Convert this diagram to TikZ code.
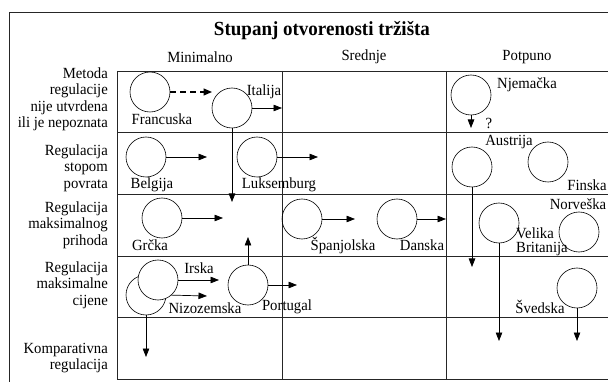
\documentclass[tikz,border=0pt]{standalone}
\usepackage{fontspec}
\setmainfont{Liberation Serif}[FakeStretch=0.95]
\usetikzlibrary{arrows.meta}
\begin{document}
\begin{tikzpicture}[x=1pt,y=-1pt,
  ctry/.style={circle,draw,line width=0.6pt,minimum size=40pt,inner sep=0pt},
  lbl/.style={font=\fontsize{15.5}{16}\selectfont,inner sep=0pt},
  rowlbl/.style={font=\fontsize{15.5}{16.5}\selectfont,inner sep=0pt,align=right,anchor=east},
  arr/.style={-{Triangle[length=8.5pt,width=6.5pt]},line width=0.7pt},
  dasharr/.style={-{Triangle[length=8.5pt,width=7pt]},line width=1.4pt,dash pattern=on 6pt off 4pt},
  gridline/.style={line width=0.8pt,draw=black!85}]
\useasboundingbox (0,0) rectangle (608,382);
\clip (0,0) rectangle (608,382);
% outer frame
\draw[gridline] (9,400) -- (9,12.5) -- (620,12.5);
% grid
\draw[gridline] (117,71) -- (620,71);
\draw[gridline] (117,132) -- (620,132);
\draw[gridline] (117,194) -- (620,194);
\draw[gridline] (117,256) -- (620,256);
\draw[gridline] (117,317) -- (620,317);
\draw[gridline] (117,379) -- (620,379);
\draw[gridline] (117,71) -- (117,379);
\draw[gridline] (282,71) -- (282,379);
\draw[gridline] (446,71) -- (446,379);
% title and headers
\node[font=\fontsize{20}{22}\selectfont\bfseries,inner sep=0pt] (title) at (322,31) {Stupanj otvorenosti tržišta};
\node[lbl] (hmin) at (200,57) {Minimalno};
\node[lbl] (hsre) at (364,57) {Srednje};
\node[lbl] (hpot) at (527,57) {Potpuno};
% row labels
\node[rowlbl] (r1) at (108,99.5) {Metoda\\regulacije\\nije utvrdena\\ili je nepoznata};
\node[rowlbl] (r2) at (108,168) {Regulacija\\stopom\\povrata};
\node[rowlbl] (r3) at (108,225) {Regulacija\\maksimalnog\\prihoda};
\node[rowlbl] (r4) at (108,285) {Regulacija\\maksimalne\\cijene};
\node[rowlbl] (r5) at (108,358) {Komparativna\\regulacija};
% row 1
\node[ctry] (fr) at (150,92) {};
\node[lbl] (frl) at (162,119) {Francuska};
\node[ctry] (it) at (232,108) {};
\node[lbl] (itl) at (264,92) {Italija};
\coordinate (frE) at (212,92);
\coordinate (itE) at (282,108);
\coordinate (itS) at (232,202);
\draw[dasharr] (fr.east) -- (frE);
\draw[arr] (it.east) -- (itE);
\draw[arr] (it.south) -- (itS);
\node[ctry] (de) at (471,95) {};
\node[lbl] (del) at (527,85) {Njemačka};
\coordinate (deS) at (471,128);
\draw[arr] (de.south) -- (deS);
\node[lbl] (q) at (489,123) {?};
% row 2
\node[ctry] (be) at (146,157) {};
\node[lbl] (bel) at (152,185) {Belgija};
\coordinate (beE) at (207,157);
\draw[arr] (be.east) -- (beE);
\node[ctry] (lu) at (257,157) {};
\node[lbl] (lul) at (279,185) {Luksemburg};
\coordinate (luE) at (318,157);
\draw[arr] (lu.east) -- (luE);
\node[ctry] (at) at (472,167) {};
\node[lbl] (atl) at (509,142) {Austrija};
\coordinate (atS) at (472,267);
\draw[arr] (at.south) -- (atS);
\node[ctry] (fi) at (548,162) {};
\node[lbl] (fil) at (587,185) {Finska};
% row 3
\node[ctry] (gr) at (162,218) {};
\node[lbl] (grl) at (150,245) {Grčka};
\coordinate (grE) at (223,218);
\draw[arr] (gr.east) -- (grE);
\node[ctry] (es) at (302,219) {};
\node[lbl] (esl) at (343,245) {Španjolska};
\coordinate (esE) at (355,219);
\draw[arr] (es.east) -- (esE);
\node[ctry] (dk) at (397,219) {};
\node[lbl] (dkl) at (422,245) {Danska};
\coordinate (dkE) at (446,219);
\draw[arr] (dk.east) -- (dkE);
\node[ctry] (uk) at (499,223) {};
\node[lbl,align=left,anchor=west,font=\fontsize{15.5}{14}\selectfont] (ukl) at (516,242) {Velika\\Britanija};
\coordinate (ukS) at (499,341);
\draw[arr] (uk.south) -- (ukS);
\node[ctry] (no) at (579,232) {};
\node[lbl] (nol) at (578,204) {Norveška};
% row 4
\node[ctry] (nl) at (146,295) {};
\node[lbl] (nll) at (205,308) {Nizozemska};
\coordinate (nlE) at (207,296);
\coordinate (nlS) at (146,357);
\draw[arr] (nl.east) -- (nlE);
\draw[arr] (nl.south) -- (nlS);
\node[ctry,fill=white] (ie) at (158,280) {};
\node[lbl] (iel) at (199,268) {Irska};
\coordinate (ieE) at (219,280);
\draw[arr] (ie.east) -- (ieE);
\node[ctry] (pt) at (248,285) {};
\node[lbl] (ptl) at (287,307) {Portugal};
\coordinate (ptE) at (297,285);
\coordinate (ptN) at (248,237);
\draw[arr] (pt.east) -- (ptE);
\draw[arr] (pt.north) -- (ptN);
\node[ctry] (se) at (577,288) {};
\node[lbl] (sel) at (540,307) {Švedska};
\coordinate (seS) at (577,341);
\draw[arr] (se.south) -- (seS);
\end{tikzpicture}
\end{document}
